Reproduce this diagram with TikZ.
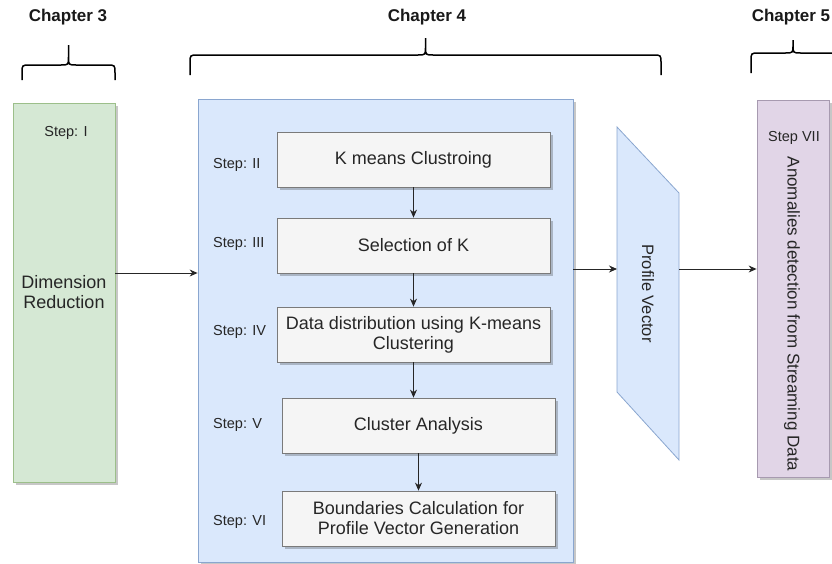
\documentclass[tikz,border=0pt]{standalone}
\usepackage{fontspec}
\setmainfont{Liberation Sans}
\usetikzlibrary{positioning,arrows.meta,shadows}

\definecolor{grnfill}{HTML}{D5E8D4}
\definecolor{grndraw}{HTML}{9CBF8A}
\definecolor{blufill}{HTML}{DAE8FC}
\definecolor{bludraw}{HTML}{8AA6CF}
\definecolor{purfill}{HTML}{E1D5E7}
\definecolor{purdraw}{HTML}{A79AB0}
\definecolor{boxfill}{HTML}{F5F5F5}
\definecolor{boxdraw}{HTML}{7A7A7A}
\definecolor{txt}{HTML}{262626}

\begin{document}
\begin{tikzpicture}[
  x=1pt, y=-1pt,
  font=\fontsize{18}{20}\selectfont, text=txt,
  shd/.style={drop shadow={shadow xshift=2.5pt, shadow yshift=-2.5pt,
              fill=black, opacity=0.22}},
  panel/.style={rectangle, line width=0.8pt, inner sep=0pt, align=center, shd},
  procbox/.style={rectangle, draw=boxdraw, fill=boxfill, line width=0.8pt,
                  minimum width=273pt, minimum height=55pt, inner sep=2pt,
                  align=center, shd},
  steplbl/.style={font=\fontsize{14.5}{16}\selectfont, anchor=west, inner sep=0pt},
  chap/.style={font=\bfseries\fontsize{17}{19}\selectfont, text=black!90},
  vtext/.style={rotate=-90, inner sep=0pt},
  brace/.style={draw=black, line width=1.5pt},
  arr/.style={draw=black!85, line width=0.9pt, -{Stealth[length=8pt,width=7pt]}}
]
\useasboundingbox (0,0) rectangle (832,563);

% ---- chapter headings and braces ----
\foreach \x/\n in {68/3, 427/4, 791/5}
  \node[chap] (ch\n) at (\x,17) {Chapter \n};

\foreach \l/\r/\yh/\yt/\ye in {22/115/65/45/80, 190/661/55/38/75, 751/835/53/40/73} {
  \pgfmathsetmacro\m{(\l+\r)/2}
  \draw[brace] (\l,\ye) -- (\l,{\yh+8}) .. controls (\l,\yh) .. ({\l+8},\yh)
    -- ({\m-8},\yh) .. controls (\m,\yh) .. (\m,{\yh-8}) -- (\m,\yt)
    (\m,{\yh-8}) .. controls (\m,\yh) .. ({\m+8},\yh)
    -- ({\r-8},\yh) .. controls (\r,\yh) .. (\r,{\yh+8}) -- (\r,\ye);
}

% ---- step I ----
\node[panel, draw=grndraw, fill=grnfill, minimum width=102pt, minimum height=379pt]
  (dimred) at (64,292.5) {Dimension\\Reduction};
\node[steplbl, anchor=center] (stepI) at (66,133) {Step: I};

% ---- steps II to VI ----
\node[panel, draw=bludraw, fill=blufill, minimum width=375pt, minimum height=463pt]
  (chapfour) at (385.5,330.5) {};

\node[procbox] (kmeans)  at (413.5,159.5) {K means Clustroing};
\node[procbox] (selk)    at (413.5,245.5) {Selection of K};
\node[procbox] (distrib) at (413.5,334.5) {Data distribution using K-means\\Clustering};
\node[procbox] (analys)  at (418.5,425.5) {Cluster Analysis};
\node[procbox] (bounds)  at (418.5,518.5) {Boundaries Calculation for\\Profile Vector Generation};

\foreach \y/\s in {165/II, 244/III, 332/IV, 425/V, 522/VI}
  \node[steplbl] (step\s) at (213,\y) {Step: \s};

\draw[arr] (kmeans.south) -- (selk.north);
\draw[arr] (selk.south) -- (distrib.north);
\draw[arr] (distrib.south) -- (distrib.south |- analys.north);
\draw[arr] (analys.south) -- (bounds.north);

% ---- profile vector ----
\coordinate (pva) at (617,127);
\coordinate (pvb) at (679,193);
\coordinate (pvc) at (679,460);
\coordinate (pvd) at (617,392);
\draw[draw=bludraw, fill=blufill, line width=0.8pt] (pva) -- (pvb) -- (pvc) -- (pvd) -- cycle;
\node[vtext, font=\fontsize{16.5}{18}\selectfont] (pvtext) at (648,293.5) {Profile Vector};
\coordinate (pvin) at (617,269);
\coordinate (pvout) at (679,269);

% ---- step VII ----
\node[panel, draw=purdraw, fill=purfill, minimum width=72pt, minimum height=377pt]
  (anomaly) at (793,288.5) {};
\node[steplbl, anchor=center] (stepVII) at (794,138) {Step VII};
\node[vtext, font=\fontsize{17}{19}\selectfont] (anotext) at (792,314)
  {Anomalies detection from Streaming Data};

% ---- flow ----
\coordinate (lvl) at (0,273);
\draw[arr] (dimred.east |- lvl) -- (chapfour.west |- lvl);
\draw[arr] (chapfour.east |- pvin) -- (pvin);
\draw[arr] (pvout) -- (anomaly.west |- pvout);

\end{tikzpicture}
\end{document}
